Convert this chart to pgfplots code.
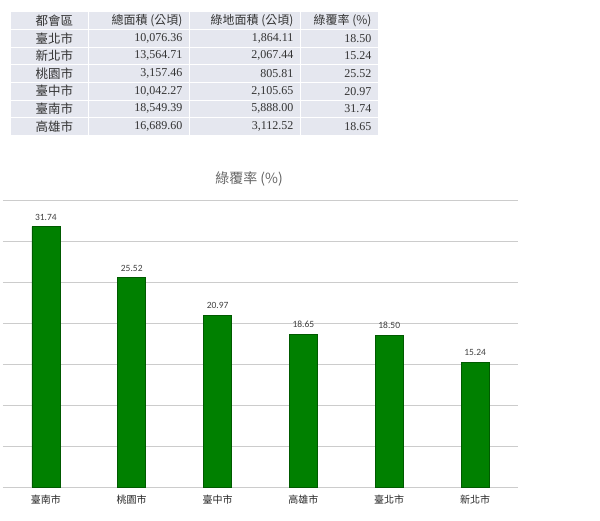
\documentclass[border=0pt]{standalone}
\usepackage{pgfplots}
\pgfplotsset{compat=1.18}
\usepackage{fontspec}
\setmainfont{Liberation Serif}
\newfontfamily\cjk{Noto Sans CJK TC}
\newfontfamily\carl{Carlito}
\definecolor{tbl}{HTML}{E5E7EF}
\definecolor{barg}{HTML}{008000}
\definecolor{bard}{HTML}{005A00}
\definecolor{txt}{HTML}{333333}
\newcommand\trow[5]{%
 \node[anchor=west,font=\cjk\fontsize{12.5}{14}\selectfont,text=txt] at (32,{520-#1}) {#2};
 \node[anchor=east,font=\fontsize{12}{14}\selectfont,text=txt] at (186,{520-#1}) {#3};
 \node[anchor=east,font=\fontsize{12}{14}\selectfont,text=txt] at (297,{520-#1}) {#4};
 \node[anchor=east,font=\fontsize{12}{14}\selectfont,text=txt] at (375,{520-#1}) {#5};
}
\begin{document}
\begin{tikzpicture}[x=1pt,y=1pt]
\path[use as bounding box] (0,0) rectangle (600,520);
% table
\fill[tbl] (11,508) rectangle (378,385);
\foreach \xx in {88,189,300} \draw[white,line width=1pt] (\xx,508) -- (\xx,385);
\foreach \k in {1,...,6} \draw[white, line width=0.6pt] (11,{508-17.57*\k}) -- (378,{508-17.57*\k});
\node[anchor=west,font=\cjk\fontsize{12.5}{14}\selectfont,text=txt] at (32,{520-20.8}) {都會區};
\node[anchor=east,font=\cjk\fontsize{12}{14}\selectfont,text=txt] at (186,{520-20.8}) {總面積 (公頃)};
\node[anchor=east,font=\cjk\fontsize{12}{14}\selectfont,text=txt] at (297,{520-20.8}) {綠地面積 (公頃)};
\node[anchor=east,font=\cjk\fontsize{12}{14}\selectfont,text=txt] at (375,{520-20.8}) {綠覆率 (\%)};
\trow{38.4}{臺北市}{10,076.36}{1,864.11}{18.50}
\trow{55.9}{新北市}{13,564.71}{2,067.44}{15.24}
\trow{73.5}{桃園市}{3,157.46}{805.81}{25.52}
\trow{91.1}{臺中市}{10,042.27}{2,105.65}{20.97}
\trow{108.6}{臺南市}{18,549.39}{5,888.00}{31.74}
\trow{126.2}{高雄市}{16,689.60}{3,112.52}{18.65}
% title
\node[font=\cjk\fontsize{14}{16}\selectfont, text=black!60] at (249,{520-179}) {綠覆率 (\%)};
\begin{axis}[at={(3pt,33pt)}, anchor=south west, scale only axis,
  width=515pt, height=287pt,
  ymin=0, ymax=35, xmin=-0.5, xmax=5.5,
  ytick={0,5,...,35}, yticklabels={},
  ymajorgrids, grid style={color=gray!40, line width=0.8pt},
  axis line style={draw=none}, major tick length=0pt,
  xtick=data,
  xticklabels={臺南市,桃園市,臺中市,高雄市,臺北市,新北市},
  xticklabel style={font=\cjk\fontsize{10}{12}\selectfont, text=black!85, yshift=-4pt},
  ybar, bar width=28pt,
  nodes near coords,
  nodes near coords style={font=\carl\fontsize{9.5}{11}\selectfont, text=black!75, yshift=3pt,
    /pgf/number format/.cd, fixed, fixed zerofill, precision=2, assume math mode=true},
  clip=false]
\addplot[fill=barg, draw=bard, line width=0.6pt] coordinates {(0,31.74) (1,25.52) (2,20.97) (3,18.65) (4,18.50) (5,15.24)};
\end{axis}
\end{tikzpicture}
\end{document}
